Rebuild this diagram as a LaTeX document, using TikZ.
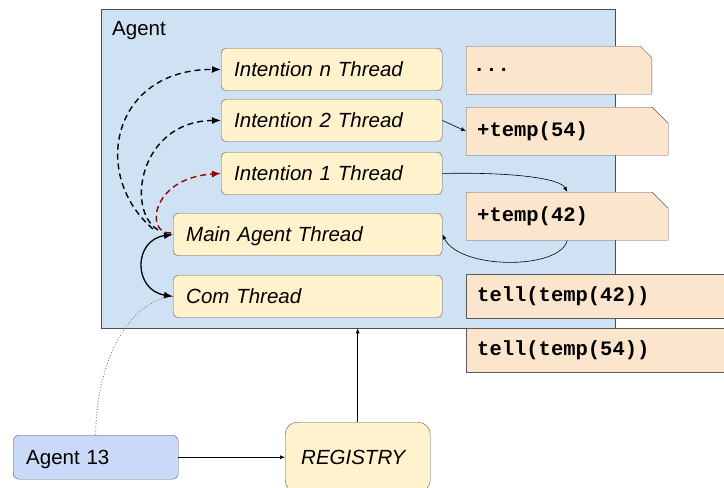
\documentclass[tikz,border=0pt]{standalone}
\usepackage{fontspec}
\setmainfont{Liberation Sans}
\newfontfamily\codefont{Liberation Mono}
\usetikzlibrary{arrows.meta,shapes.misc}

\definecolor{agentblue}{HTML}{CFE2F3}
\definecolor{threadyellow}{HTML}{FFF2CC}
\definecolor{notepeach}{HTML}{FCE5CD}
\definecolor{peerblue}{HTML}{C9DAF8}
\definecolor{edgegray}{HTML}{595959}
\definecolor{darkred}{HTML}{990000}

\begin{document}
\begin{tikzpicture}[x=1pt,y=-1pt,font=\fontsize{20.5}{24}\selectfont,
  thread/.style={draw=edgegray,fill=threadyellow,rounded corners=5pt,anchor=north west,minimum height=42.5pt,inner xsep=13pt,text height=14.5pt,text depth=0pt,align=left,font=\fontsize{20.5}{24}\selectfont\itshape},
  note/.style={draw=edgegray,fill=notepeach,anchor=north west,inner xsep=11pt,align=left,font=\codefont\bfseries\fontsize{20.5}{24}\selectfont},
  folded/.style={note,chamfered rectangle,chamfered rectangle corners=north east,chamfered rectangle xsep=9pt,chamfered rectangle ysep=7pt,inner xsep=2pt,minimum height=48pt},
  link/.style={-{Latex[length=5pt,width=4pt]},line width=0.6pt},
  spawn/.style={-{Latex[length=9pt,width=7pt]},line width=1.4pt,dash pattern=on 6pt off 4pt}]
\useasboundingbox (0,0) rectangle (724,488);
\node[draw=black!70,fill=agentblue,anchor=north west,minimum width=514pt,minimum height=319pt,inner sep=0] (agent) at (101,9) {};
\node[anchor=base west,inner sep=0] (agentlbl) at (112,35) {Agent};
% threads inside the agent
\foreach \nm/\k/\y in {intn/n/48,int2/2/99,int1/1/152}
  \node[thread,text width=195pt] (\nm) at (221,\y) {Intention \k\ Thread};
\node[thread,text width=243pt] (main) at (173,213) {Main Agent Thread};
\node[thread,text width=243pt] (com) at (173,275) {Com Thread};
% beliefs and messages
\node[folded,text width=172pt] (ndots) at (466,46) {...};
\node[folded,text width=180pt] (n54) at (466,107) {+temp(54)};
\node[folded,text width=180pt] (n42) at (466,192) {+temp(42)};
\node[note,text width=258pt,minimum height=43.5pt] (t42) at (466,274) {tell(temp(42))};
\node[note,text width=258pt,minimum height=43.5pt] (t54) at (466,328) {tell(temp(54))};
% outside the agent
\node[draw=edgegray,fill=peerblue,rounded corners=6pt,anchor=north west,minimum height=44pt,text width=139pt,inner xsep=13pt,text height=14.5pt,text depth=0pt,align=left] (a13) at (13,435) {Agent 13};
\node[draw=edgegray,fill=threadyellow,rounded corners=12pt,anchor=north west,minimum height=70pt,text width=113pt,inner xsep=16pt,align=left,font=\fontsize{20.5}{24}\selectfont\itshape] (reg) at (285,422) {REGISTRY};

\draw[link] (a13) -- (reg);
\draw[link] (reg) -- (reg |- agent.south);
\draw[black!60,dotted,line width=0.8pt] (a13.north) .. controls (96,360) and (130,300) .. (com.west);
\draw[{Latex[length=9pt,width=7pt]}-{Latex[length=9pt,width=7pt]},line width=1.3pt] (main.west) .. controls (133,240) and (133,290) .. (com.west);
\draw[spawn] ([shift={(-20,-5.5)}]main.west) .. controls (90,175) and (112,69) .. (intn.west);
\draw[spawn] ([shift={(-15,-4.5)}]main.west) .. controls (125,210) and (140,121) .. (int2.west);
\draw[spawn,darkred] ([shift={(-2,-1.5)}]main.west) .. controls (145,235) and (150,178) .. (int1.west);
\draw[link] (int2.east) -- (n54.west);
\draw[link] (int1.east) .. controls (510,172) and (560,178) .. (n42.north);
\draw[link] (n42.south) .. controls (560,270) and (460,270) .. (main.east);
\end{tikzpicture}
\end{document}
